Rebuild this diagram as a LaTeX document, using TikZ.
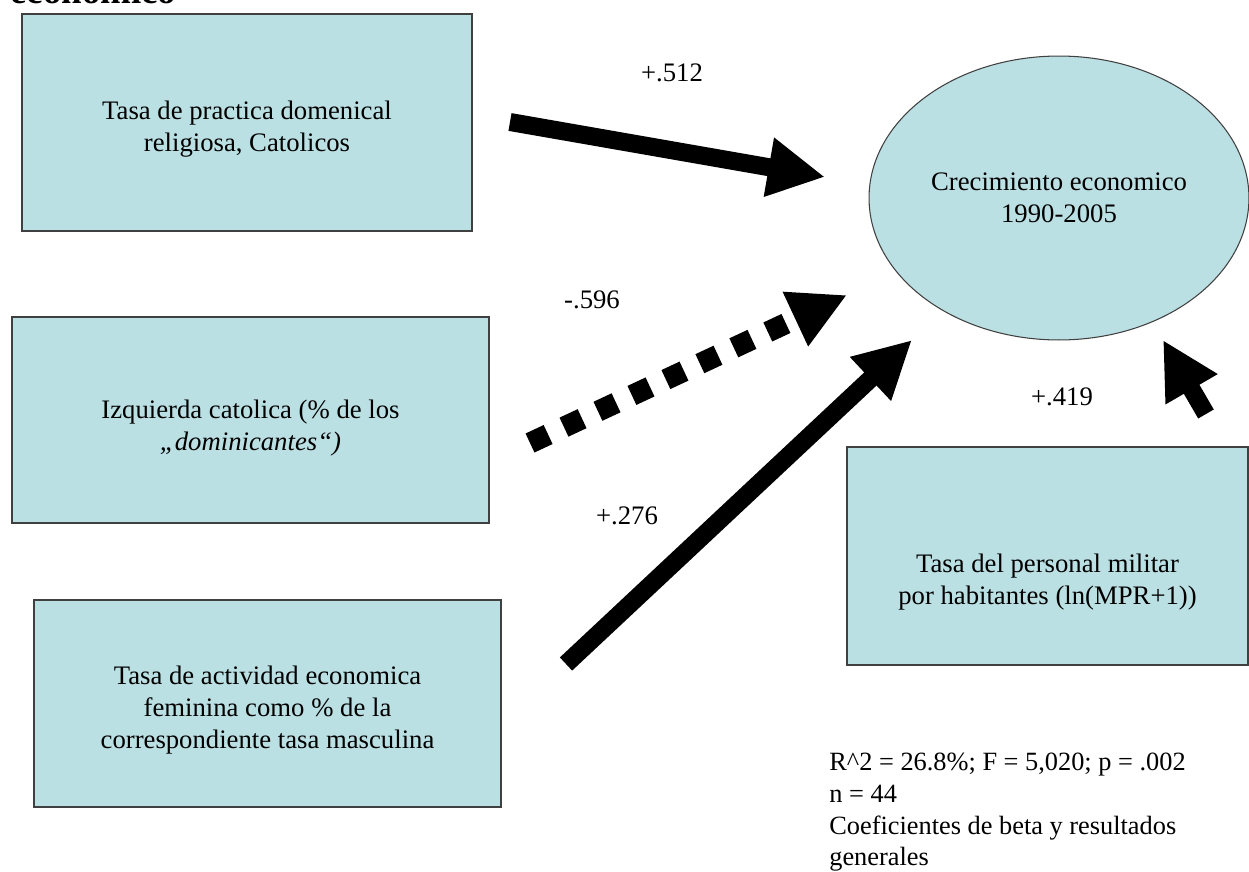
\documentclass[tikz,border=0pt]{standalone}
\usepackage{fontspec}
\setmainfont{Liberation Serif}
\usetikzlibrary{arrows.meta, shapes.geometric, positioning}
\definecolor{cajaazul}{RGB}{187,224,227}
\definecolor{borde}{RGB}{64,64,64}

\begin{document}
\begin{tikzpicture}[x=0.02cm, y=-0.02cm,
  caja/.style={draw=borde, line width=1.1pt, fill=cajaazul, rectangle, inner sep=0pt},
  texto/.style={font=\fontsize{15.2}{18}\selectfont, align=center},
  coef/.style={font=\fontsize{15.2}{18}\selectfont},
  flecha/.style={line width=0.36cm, -{Triangle[length=1.14cm, width=1.12cm]}}]
  \useasboundingbox (0,0) rectangle (1249,872);

  % titulo (cortado arriba)
  \node[anchor=base west, inner sep=0pt, font=\fontsize{21}{25}\selectfont\bfseries] (titulo) at (10,4) {economico};

  % variables
  \node[caja, minimum width=9cm, minimum height=4.34cm,
    label={[texto, yshift=-0.13cm]center:{Tasa de practica domenical\\religiosa, Catolicos}}] (practica) at (247,122.5) {};
  \node[caja, minimum width=9.54cm, minimum height=4.12cm,
    label={[texto, yshift=-0.16cm]center:{Izquierda catolica (\% de los\\{\itshape „dominicantes“)}}}] (izquierda) at (250.5,420) {};
  \node[caja, minimum width=9.34cm, minimum height=4.14cm,
    label={[texto, yshift=-0.13cm]center:{Tasa de actividad economica\\feminina como \% de la\\correspondiente tasa masculina}}] (actividad) at (267.5,703.5) {};
  \node[caja, minimum width=8.02cm, minimum height=4.36cm,
    label={[texto, yshift=-0.52cm]center:{Tasa del personal militar\\por habitantes (ln(MPR+1))}}] (militar) at (1047.5,556) {};
  \node[ellipse, draw=borde, line width=0.6pt, fill=cajaazul, minimum width=7.6cm, minimum height=5.68cm, texto] (crecimiento) at (1059,198) {Crecimiento economico\\1990-2005};

  % extremos de las flechas
  \coordinate (p1) at (510,122);  \coordinate (q1) at (825,177);
  \coordinate (p2) at (530,443);  \coordinate (q2) at (847,295);
  \coordinate (p3) at (566,664);  \coordinate (q3) at (912,340);
  \coordinate (p4) at (1206,414); \coordinate (q4) at (1163,340);

  \draw[flecha] (p1) -- (q1);
  \draw[flecha, line width=0.42cm, dash pattern=on 0.4cm off 0.35cm] (p2) -- (q2);
  \draw[flecha] (p3) -- (q3);
  \draw[flecha] (p4) -- (q4);

  % coeficientes beta
  \node[coef] (c1) at (672,73) {+.512};
  \node[coef] (c2) at (592,300) {-.596};
  \node[coef] (c3) at (627,516) {+.276};
  \node[coef] (c4) at (1062,397) {+.419};

  % resultados generales
  \node[anchor=north west, align=left, inner sep=0pt, font=\fontsize{15}{18}\selectfont] (resultados) at (829,753)
    {R\textasciicircum 2 = 26.8\%; F = 5,020; p = .002\\n = 44\\Coeficientes de beta y resultados\\generales};
\end{tikzpicture}
\end{document}
